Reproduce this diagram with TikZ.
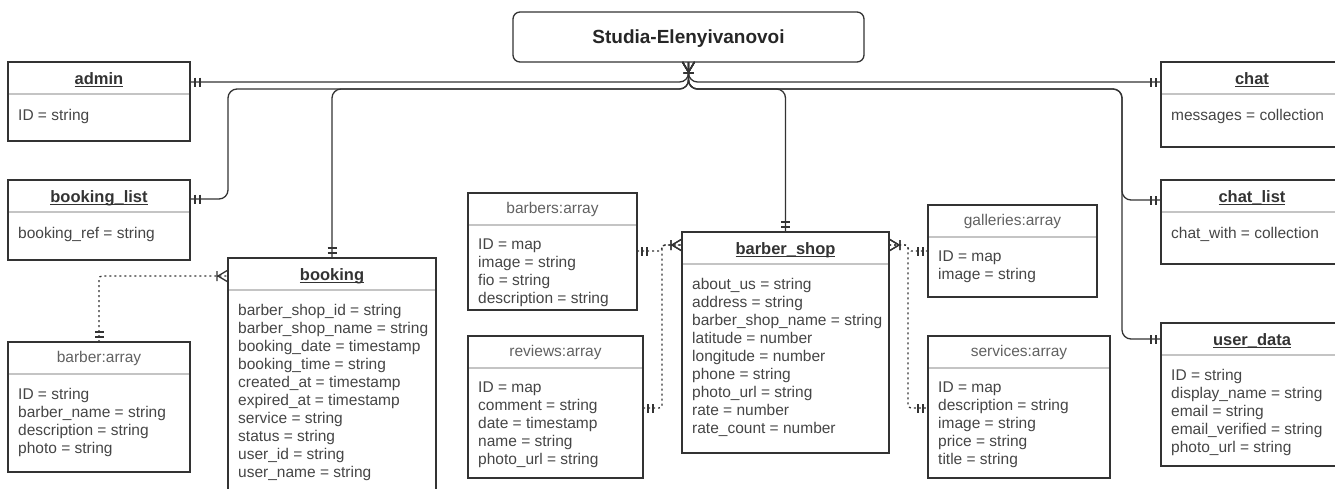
\documentclass[tikz,border=0pt]{standalone}
\usepackage{fontspec}
\setmainfont{Liberation Sans}
\usetikzlibrary{decorations.markings}
\definecolor{erink}{HTML}{333333}
\definecolor{ertext}{HTML}{454545}
\definecolor{errule}{HTML}{C4C4C4}
\newsavebox{\erbox}
\newcommand{\erul}[1]{\sbox{\erbox}{#1}\rlap{\rule[-2.6pt]{\wd\erbox}{1.1pt}}\usebox{\erbox}}
\tikzset{
  er box/.style={draw=erink, line width=1.3pt, anchor=north west, inner sep=0pt, outer sep=0pt},
  er top/.style={draw=erink, line width=1.3pt, rounded corners=7pt, minimum width=351pt,
    minimum height=50pt, outer sep=0pt, text depth=0pt, font=\fontsize{19}{23}\selectfont\bfseries,
    text=black!85},
  er name/.style={anchor=base, inner sep=0pt, font=\fontsize{16.5}{20}\selectfont\bfseries, text=erink},
  er array/.style={anchor=base, inner sep=0pt, font=\fontsize{15.5}{18}\selectfont, text=ertext!85},
  er rows/.style={anchor=north west, inner sep=0pt, align=left, font=\fontsize{15.5}{18}\selectfont,
    text=ertext, execute at begin node=\strut},
  er rule/.style={draw=errule, line width=1.3pt},
  er link/.style={draw=erink, line width=1.3pt, rounded corners=9pt},
  er dots/.style={er link, rounded corners=3pt, dash pattern=on 2pt off 3pt},
  er tick/.style={solid, draw=erink, line width=1.3pt, rounded corners=0pt},
  er one end/.style={postaction={decorate, decoration={markings, mark=at position 1 with
    {\draw[er tick] (-5pt,-4.5pt) -- (-5pt,4.5pt) (-10pt,-4.5pt) -- (-10pt,4.5pt);}}}},
  er one start/.style={postaction={decorate, decoration={markings, mark=at position 0 with
    {\draw[er tick] (5pt,-4.5pt) -- (5pt,4.5pt) (10pt,-4.5pt) -- (10pt,4.5pt);}}}},
  er many end/.style={postaction={decorate, decoration={markings, mark=at position 1 with
    {\draw[er tick] (0pt,-6pt) -- (-10pt,0pt) -- (0pt,6pt) (-11pt,-5pt) -- (-11pt,5pt);}}}},
  er many start/.style={postaction={decorate, decoration={markings, mark=at position 0 with
    {\draw[er tick] (0pt,-6pt) -- (10pt,0pt) -- (0pt,6pt) (11pt,-5pt) -- (11pt,5pt);}}}}
}

\begin{document}
\begin{tikzpicture}[x=1pt, y=-1pt]
  \useasboundingbox (0,0) rectangle (1335,488);
  \node[er top] (studia) at (688.5,37) {Studia-Elenyivanovoi};
  % entity frames
  \node[er box, minimum width=182pt, minimum height=79pt] (admin) at (8,62) {};
  \node[er box, minimum width=182pt, minimum height=80pt] (blist) at (8,180) {};
  \node[er box, minimum width=182pt, minimum height=130pt] (barber) at (8,342) {};
  \node[er box, minimum width=208pt, minimum height=240pt] (booking) at (228,258) {};
  \node[er box, minimum width=169pt, minimum height=117pt] (barbers) at (468,193) {};
  \node[er box, minimum width=175pt, minimum height=142pt] (reviews) at (468,336) {};
  \node[er box, minimum width=207pt, minimum height=221pt] (shop) at (682,232) {};
  \node[er box, minimum width=169pt, minimum height=92pt] (gal) at (928,205) {};
  \node[er box, minimum width=182pt, minimum height=142pt] (serv) at (928,336) {};
  \node[er box, minimum width=182pt, minimum height=85pt] (chat) at (1161,62) {};
  \node[er box, minimum width=182pt, minimum height=84pt] (clist) at (1161,180) {};
  \node[er box, minimum width=182pt, minimum height=143pt] (user) at (1161,323) {};
  \foreach \e in {admin,blist,barber,booking,barbers,reviews,shop,gal,serv,chat,clist,user}
    \draw[er rule] ([shift={(1,32)}]\e.north west) -- ([shift={(-1,32)}]\e.north east);
  % headers
  \foreach \e/\t in {admin/admin, blist/booking\_list, booking/booking, shop/barber\_shop,
      chat/chat, clist/chat\_list, user/user\_data}
    \node[er name] (\e t) at ([shift={(0,22.5)}]\e.north) {\erul{\t}};
  \foreach \e/\t in {barber/barber:array, barbers/barbers:array, reviews/reviews:array,
      gal/galleries:array, serv/services:array}
    \node[er array] (\e t) at ([shift={(0,20.5)}]\e.north) {\t};
  % fields
  \node[er rows] (admin r) at ([shift={(10,45.8)}]admin.north west) {ID = string};
  \node[er rows] (blist r) at ([shift={(10,45.8)}]blist.north west) {booking\_ref = string};
  \node[er rows] (barber r) at ([shift={(10,45.8)}]barber.north west)
    {ID = string\\barber\_name = string\\description = string\\photo = string};
  \node[er rows] (booking r) at ([shift={(10,45.8)}]booking.north west)
    {barber\_shop\_id = string\\barber\_shop\_name = string\\booking\_date = timestamp\\
     booking\_time = string\\created\_at = timestamp\\expired\_at = timestamp\\
     service = string\\status = string\\user\_id = string\\user\_name = string};
  \node[er rows] (barbers r) at ([shift={(10,45.8)}]barbers.north west)
    {ID = map\\image = string\\fio = string\\description = string};
  \node[er rows] (reviews r) at ([shift={(10,45.8)}]reviews.north west)
    {ID = map\\comment = string\\date = timestamp\\name = string\\photo\_url = string};
  \node[er rows] (shop r) at ([shift={(10,45.8)}]shop.north west)
    {about\_us = string\\address = string\\barber\_shop\_name = string\\latitude = number\\
     longitude = number\\phone = string\\photo\_url = string\\rate = number\\rate\_count = number};
  \node[er rows] (gal r) at ([shift={(10,45.8)}]gal.north west) {ID = map\\image = string};
  \node[er rows] (serv r) at ([shift={(10,45.8)}]serv.north west)
    {ID = map\\description = string\\image = string\\price = string\\title = string};
  \node[er rows] (chat r) at ([shift={(10,45.8)}]chat.north west) {messages = collection};
  \node[er rows] (clist r) at ([shift={(10,45.8)}]clist.north west) {chat\_with = collection};
  \node[er rows] (user r) at ([shift={(10,45.8)}]user.north west)
    {ID = string\\display\_name = string\\email = string\\email\_verified = string\\photo\_url = string};
  % root links
  \draw[er link, er many start, er one end] (studia.south) |- ([shift={(0,20)}]admin.north east);
  \draw[er link, er many start, er one end] (studia.south) |- ([shift={(0,20)}]chat.north west);
  \draw[er link, er many start, er one end] (studia.south) -- ++(0,27)
    -| ([shift={(38,19)}]blist.north east) -- ([shift={(0,19)}]blist.north east);
  \draw[er link, er many start, er one end] (studia.south) -- ++(0,27) -| (booking.north);
  \draw[er link, er many start, er one end] (studia.south) -- ++(0,27) -| (shop.north);
  \draw[er link, er many start, er one end] (studia.south) -- ++(0,27)
    -| ([shift={(-39,20)}]clist.north west) -- ([shift={(0,20)}]clist.north west);
  \draw[er link, er many start, er one end] (studia.south) -- ++(0,27)
    -| ([shift={(-39,16)}]user.north west) -- ([shift={(0,16)}]user.north west);
  % array links
  \draw[er dots, er one start, er many end] (barber.north) |- ([shift={(0,18)}]booking.north west);
  \draw[er dots, er one start, er many end] ([shift={(0,58)}]barbers.north east)
    -| ([shift={(-20,13)}]shop.north west) -- ([shift={(0,13)}]shop.north west);
  \draw[er dots, er one start, er many end] ([shift={(0,72)}]reviews.north east)
    -| ([shift={(-20,13)}]shop.north west) -- ([shift={(0,13)}]shop.north west);
  \draw[er dots, er many start, er one end] ([shift={(0,13)}]shop.north east) -- ++(19,0)
    |- ([shift={(0,46)}]gal.north west);
  \draw[er dots, er many start, er one end] ([shift={(0,13)}]shop.north east) -- ++(19,0)
    |- ([shift={(0,72)}]serv.north west);
\end{tikzpicture}
\end{document}
